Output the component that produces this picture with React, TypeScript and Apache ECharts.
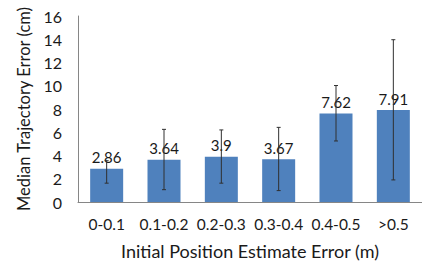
import React, { useEffect, useRef } from "react";
import * as echarts from "echarts";

const categories = ["0-0.1", "0.1-0.2", "0.2-0.3", "0.3-0.4", "0.4-0.5", ">0.5"];
const medianValues = [2.86, 3.64, 3.9, 3.67, 7.62, 7.91];
const errorLow = [1.62, 1.06, 1.62, 0.98, 5.25, 1.9];
const errorHigh = [3.55, 6.25, 6.2, 6.42, 10.02, 13.96];

const FONT = "Lato, 'Open Sans', sans-serif";

export default function App() {
  const ref = useRef<HTMLDivElement>(null);
  useEffect(() => {
    if (!ref.current) return;
    const chart = echarts.init(ref.current, null, { renderer: "svg" });
    const errData = categories.map((_, i) => [i, errorLow[i], errorHigh[i]]);
    chart.setOption({
      animation: false,
      backgroundColor: "#ffffff",
      grid: { left: 78, top: 16, bottom: 58, width: 351 },
      xAxis: {
        type: "category",
        data: categories,
        name: "Initial Position Estimate Error (m)",
        nameLocation: "middle",
        nameGap: 40,
        nameTextStyle: { fontFamily: FONT, fontSize: 18, color: "#1a1a1a" },
        axisLine: { lineStyle: { color: "#868686", width: 1 } },
        axisTick: { show: false },
        axisLabel: { interval: 0, hideOverlap: false, fontFamily: FONT, fontSize: 15.5, color: "#1a1a1a", margin: 14 },
      },
      yAxis: {
        type: "value",
        min: 0,
        max: 16,
        interval: 2,
        name: "Median Trajectory Error (cm)",
        nameLocation: "middle",
        nameGap: 35,
        nameTextStyle: { fontFamily: FONT, fontSize: 16.5, color: "#1a1a1a" },
        axisLine: { show: true, lineStyle: { color: "#868686", width: 1 } },
        axisTick: { show: false },
        splitLine: { show: false },
        axisLabel: { fontFamily: FONT, fontSize: 16, color: "#1a1a1a", margin: 16 },
      },
      series: [
        {
          type: "bar",
          data: medianValues,
          barWidth: 33,
          itemStyle: { color: "#4F81BD" },
          label: {
            show: true,
            position: "top",
            distance: 4,
            fontFamily: FONT,
            fontSize: 15,
            color: "#1a1a1a",
          },
          z: 2,
        },
        {
          type: "custom",
          data: errData,
          z: 3,
          renderItem: (params: any, api: any) => {
            const x = api.value(0);
            const lo = api.coord([x, api.value(1)]);
            const hi = api.coord([x, api.value(2)]);
            const cap = 2;
            const style = { stroke: "#303030", lineWidth: 1 };
            return {
              type: "group",
              children: [
                { type: "line", shape: { x1: lo[0], y1: lo[1], x2: hi[0], y2: hi[1] }, style },
                { type: "line", shape: { x1: lo[0] - cap, y1: lo[1], x2: lo[0] + cap, y2: lo[1] }, style },
                { type: "line", shape: { x1: hi[0] - cap, y1: hi[1], x2: hi[0] + cap, y2: hi[1] }, style },
              ],
            };
          },
        },
      ],
    });
    return () => chart.dispose();
  }, []);
  return (
    <div
      ref={ref}
      style={{ position: "fixed", left: 0, top: 0, width: 422, height: 265 }}
    />
  );
}
